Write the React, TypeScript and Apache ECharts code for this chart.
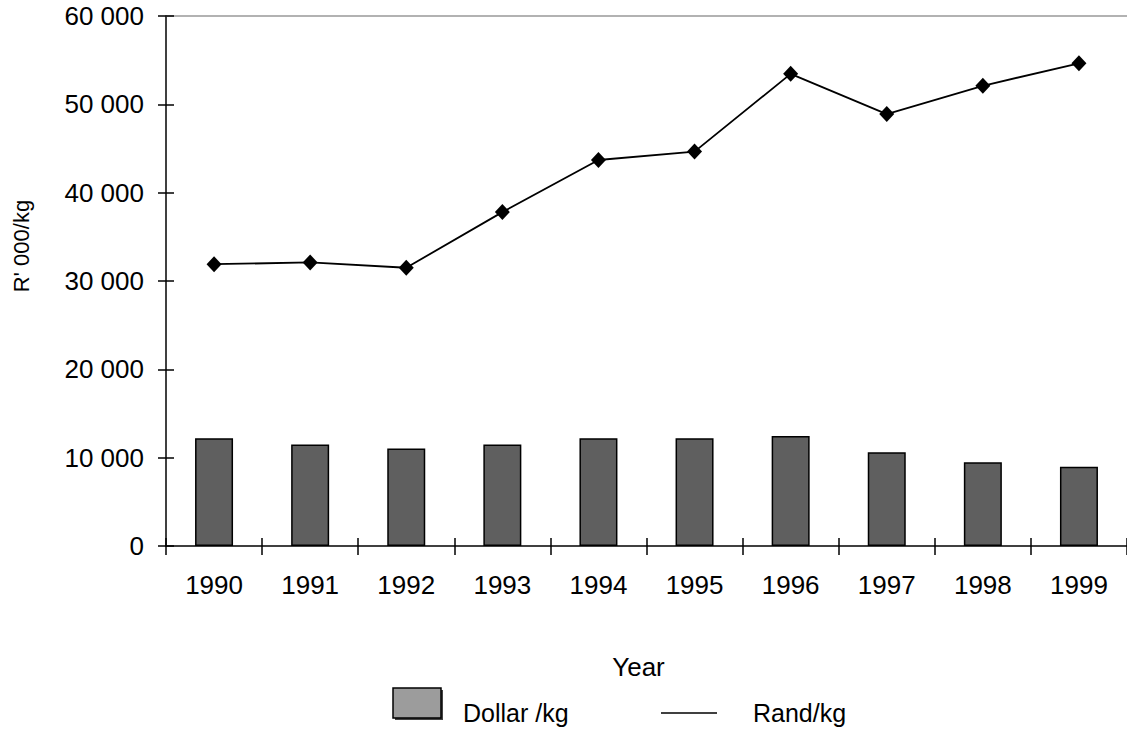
import React, { useEffect, useRef } from "react";
import * as echarts from "echarts";

const years = ["1990", "1991", "1992", "1993", "1994", "1995", "1996", "1997", "1998", "1999"];
const dollarPerKg = [12200, 11500, 11050, 11500, 12200, 12200, 12450, 10600, 9480, 8980];
const randPerKg = [31900, 32100, 31500, 37800, 43700, 44650, 53450, 48900, 52100, 54650];
const yMin = 0;
const yMax = 60000;
const yStep = 10000;

const FONT = "'Liberation Sans', Arial, Helvetica, sans-serif";

function fmt(v: number): string {
  return String(v).replace(/\B(?=(\d{3})+(?!\d))/g, " ");
}

export default function App() {
  const ref = useRef<HTMLDivElement>(null);
  useEffect(() => {
    if (!ref.current) return;
    const chart = echarts.init(ref.current, null, { renderer: "svg" });
    const black = { color: "#000", width: 1.5 };
    chart.setOption({
      animation: false,
      backgroundColor: "#fff",
      textStyle: { fontFamily: FONT, color: "#000" },
      grid: { left: 166, top: 16, width: 972, height: 530, containLabel: false },
      xAxis: [
        {
          type: "category",
          data: years,
          position: "bottom",
          axisLine: { show: true, lineStyle: black },
          axisTick: { show: true, length: 9, lineStyle: black },
          axisLabel: { color: "#000", fontSize: 26, margin: 26, fontFamily: FONT },
          name: "Year",
          nameLocation: "middle",
          nameGap: 108,
          nameTextStyle: { color: "#000", fontSize: 26, fontFamily: FONT, padding: [0, 16, 0, 0] },
        },
        {
          type: "category",
          data: years,
          position: "bottom",
          axisLine: { show: false },
          axisTick: { show: true, inside: true, length: 8, lineStyle: black },
          axisLabel: { show: false },
        },
        {
          type: "category",
          data: years,
          position: "top",
          axisLine: { show: true, lineStyle: { color: "#999", width: 1.5 } },
          axisTick: { show: false },
          axisLabel: { show: false },
        },
      ],
      yAxis: [
        {
          type: "value",
          min: yMin,
          max: yMax,
          interval: yStep,
          position: "left",
          axisLine: { show: true, lineStyle: black },
          axisTick: { show: true, length: 8, lineStyle: black },
          splitLine: { show: false },
          axisLabel: {
            color: "#000",
            fontSize: 26,
            margin: 22,
            fontFamily: FONT,
            padding: [4, 0, 0, 0],
            formatter: (v: number) => fmt(v),
          },
          name: "R' 000/kg",
          nameLocation: "middle",
          nameGap: 134,
          nameRotate: 90,
          nameTextStyle: { color: "#000", fontSize: 22, fontFamily: FONT, padding: [0, 0, 0, 70] },
        },
        {
          type: "value",
          min: yMin,
          max: yMax,
          interval: yStep,
          position: "left",
          axisLine: { show: false },
          axisTick: { show: true, inside: true, length: 8, lineStyle: black },
          splitLine: { show: false },
          axisLabel: { show: false },
        },
      ],
      series: [
        {
          type: "bar",
          name: "Dollar /kg",
          data: dollarPerKg,
          barWidth: 38,
          itemStyle: { color: "#5f5f5f", borderColor: "#000", borderWidth: 1.5 },
        },
        {
          type: "line",
          name: "Rand/kg",
          data: randPerKg,
          symbol: "diamond",
          symbolSize: [15, 16],
          lineStyle: { color: "#000", width: 1.8 },
          itemStyle: { color: "#000" },
          z: 3,
        },
      ],
      graphic: [
        {
          type: "rect",
          shape: { x: 395, y: 690, width: 48, height: 30 },
          style: { fill: "#444" },
          silent: true,
        },
        {
          type: "rect",
          shape: { x: 393, y: 688, width: 48, height: 30 },
          style: { fill: "#9c9c9c", stroke: "#000", lineWidth: 1.5 },
          silent: true,
        },
        {
          type: "text",
          x: 463,
          y: 713,
          style: { text: "Dollar /kg", fill: "#000", fontSize: 25, fontFamily: FONT, verticalAlign: "middle", align: "left" },
        },
        {
          type: "line",
          shape: { x1: 661, y1: 713, x2: 717, y2: 713 },
          style: { stroke: "#000", lineWidth: 1.5 },
          silent: true,
        },
        {
          type: "text",
          x: 753,
          y: 713,
          style: { text: "Rand/kg", fill: "#000", fontSize: 25, fontFamily: FONT, verticalAlign: "middle", align: "left" },
        },
      ],
    });
    return () => chart.dispose();
  }, []);
  return (
    <div
      ref={ref}
      style={{ position: "absolute", left: 0, top: 0, width: 1127, height: 729, background: "#fff" }}
    />
  );
}
